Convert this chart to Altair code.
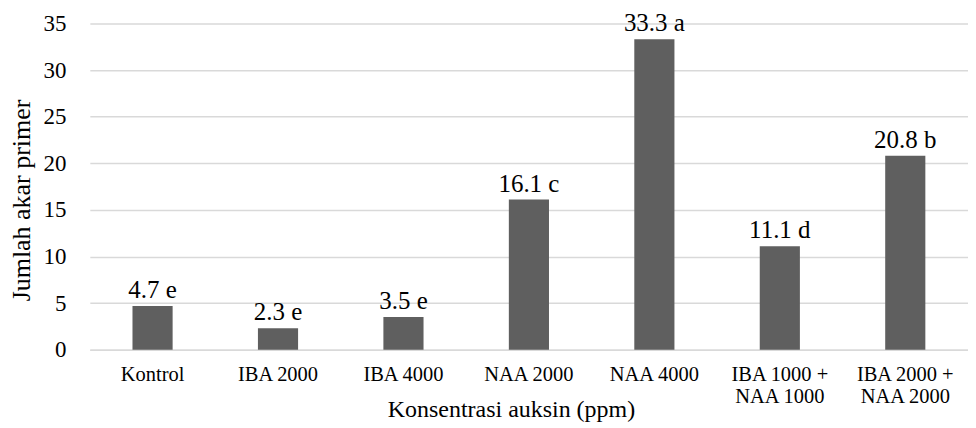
import altair as alt
import pandas as pd

categories = ["Kontrol", "IBA 2000", "IBA 4000", "NAA 2000", "NAA 4000",
              "IBA 1000 + NAA 1000", "IBA 2000 + NAA 2000"]
values = [4.7, 2.3, 3.5, 16.1, 33.3, 11.1, 20.8]
letters = ["e", "e", "e", "c", "a", "d", "b"]
y_ticks = [0, 5, 10, 15, 20, 25, 30, 35]

df = pd.DataFrame({
    "cat": categories,
    "val": values,
    "lab": [f"{v} {l}" for v, l in zip(values, letters)],
})

FONT = "Liberation Serif"

x = alt.X("cat:N", sort=categories,
          scale=alt.Scale(paddingInner=0.68, paddingOuter=0.34),
          axis=alt.Axis(title="Konsentrasi auksin (ppm)",
                        labelAngle=0, labelFontSize=20.5, labelFont=FONT,
                        labelColor="#000000", labelPadding=15,
                        labelLineHeight=22, labelBaseline="top",
                        labelExpr="split(replace(datum.label, '+ ', '+|'), '|')",
                        ticks=False, domain=True, domainColor="#d9d9d9",
                        domainWidth=1.5,
                        titleFont=FONT, titleFontSize=24, titleFontWeight="normal",
                        titleColor="#000000", titleX=422, titleY=67,
                        titleBaseline="alphabetic", titleAlign="center"))

y = alt.Y("val:Q",
          scale=alt.Scale(domain=[0, 35], nice=False),
          axis=alt.Axis(title="Jumlah akar primer", values=y_ticks,
                        labelFontSize=23, labelFont=FONT, labelColor="#000000",
                        labelPadding=24, ticks=False, domain=False,
                        grid=True, gridColor="#d9d9d9", gridWidth=1.5,
                        titleFont=FONT, titleFontSize=26, titleFontWeight="normal",
                        titleColor="#000000", titleX=-68, titleY=177,
                        titleAngle=270, titleBaseline="middle", titleAlign="center"))

bars = alt.Chart(df).mark_bar(color="#5f5f5f").encode(x=x, y=y)
text = alt.Chart(df).mark_text(font=FONT, fontSize=25, dy=-8, baseline="alphabetic",
                               color="#000000").encode(
    x=alt.X("cat:N", sort=categories), y="val:Q", text="lab:N")

chart = (bars + text).properties(
    width=880, height=327,
    padding={"left": 82, "top": 15, "right": 0, "bottom": 73},
    autosize=alt.AutoSizeParams(type="none"),
).configure_view(stroke=None)

chart.save("out.html", embed_options={"renderer": "svg", "actions": False})
